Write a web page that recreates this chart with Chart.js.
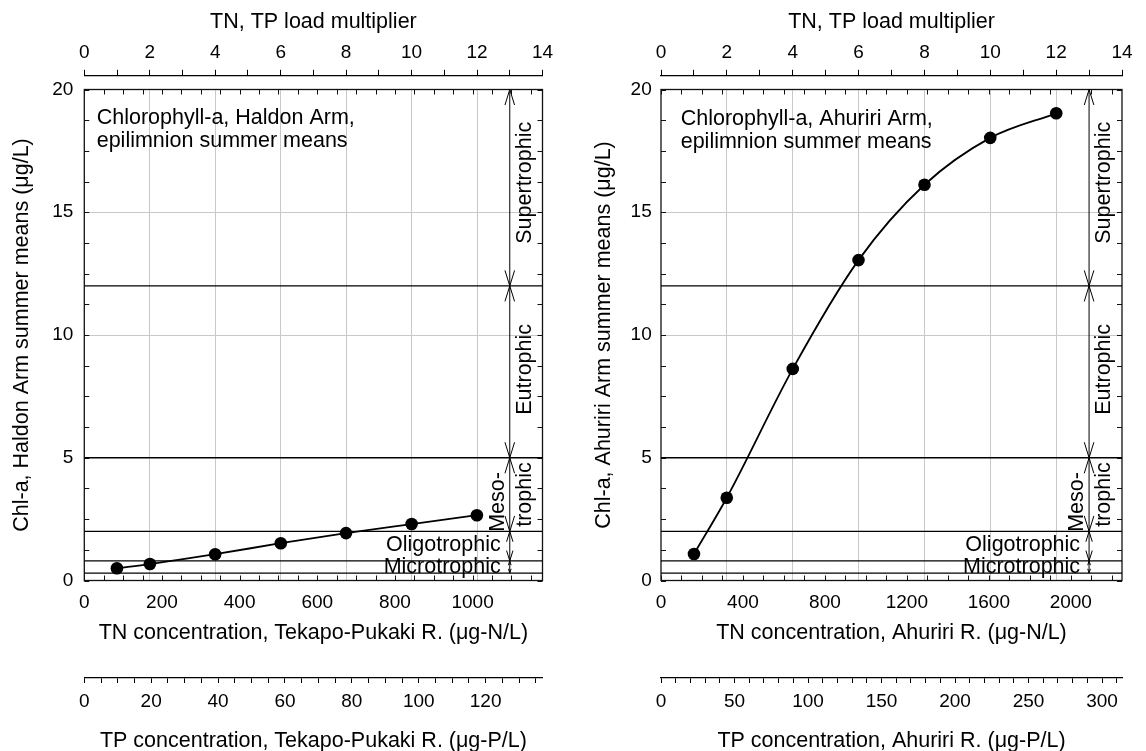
<!DOCTYPE html>
<html>
<head>
<meta charset="utf-8">
<script src="https://cdn.jsdelivr.net/npm/chart.js@4.4.1/dist/chart.umd.min.js"></script>
<style>
    html, body { margin: 0; padding: 0; background: #fff; overflow: hidden; }
    #wrap { position: relative; width: 1146px; height: 751px; }
    .panel { position: absolute; top: 0; width: 573px; height: 751px; }
</style>
</head>
<body>
<div id="wrap">
    <div class="panel" style="left:0"><canvas id="haldonChart" width="573" height="751"></canvas></div>
    <div class="panel" style="left:573px"><canvas id="ahuririChart" width="573" height="751"></canvas></div>
</div>
<script>
// TN, TP load multipliers of the scenarios
const multipliers = [1, 2, 4, 6, 8, 10, 12];
const multiplierTicks = [0, 1, 2, 3, 4, 5, 6, 7, 8, 9, 10, 11, 12, 13, 14];

// Haldon Arm (Tekapo-Pukaki R. inflow)
const haldonTN = [84, 169, 337, 506, 674, 843, 1011];
const haldonChl = [0.50, 0.67, 1.07, 1.52, 1.93, 2.30, 2.66];
const haldonTNTicks = [0, 200, 400, 600, 800, 1000];
const haldonTPTicks = [0, 20, 40, 60, 80, 100, 120];

// Ahuriri Arm (Ahuriri R. inflow)
const ahuririTN = [161, 321, 643, 964, 1286, 1607, 1929];
const ahuririChl = [1.08, 3.37, 8.62, 13.05, 16.12, 18.03, 19.03];
const ahuririTNTicks = [0, 400, 800, 1200, 1600, 2000];
const ahuririTPTicks = [0, 50, 100, 150, 200, 250, 300];

const chlTicks = [0, 5, 10, 15, 20];

// trophic state boundaries (chl-a, ug/L)
const trophicBounds = [0.3, 0.8, 2, 5, 12, 20];
const trophicBandX = 13; // arrow position on the multiplier axis

const FONT = "'Liberation Sans', Arial, Helvetica, sans-serif";
const tickFont = { family: FONT, size: 19, lineHeight: 1.2 };
const titleFont = { family: FONT, size: 21.5, lineHeight: 1.2 };
const GRID = '#c8c8c8';

function range(step, max) {
    const out = [];
    for (let v = 0; v <= max + 1e-9; v += step) out.push(+v.toFixed(4));
    return out;
}

// box, inward ticks, trophic arrows and labels
const decorPlugin = {
    id: 'decor',
    beforeDatasetsDraw(chart, args, opts) {
        const { ctx, chartArea: a, scales } = chart;
        ctx.save();
        ctx.strokeStyle = '#111';
        ctx.lineWidth = 1.3;
        ctx.strokeRect(a.left, a.top, a.right - a.left, a.bottom - a.top);
        ctx.lineWidth = 1;
        ctx.beginPath();
        range(opts.tnMinor, opts.tnMax).forEach(v => {
            const px = Math.round(scales.x.getPixelForValue(v)) + 0.5;
            ctx.moveTo(px, a.bottom); ctx.lineTo(px, a.bottom - 5);
            ctx.moveTo(px, a.top); ctx.lineTo(px, a.top + 5);
        });
        range(1.25, 20).forEach(v => {
            const py = Math.round(scales.y.getPixelForValue(v)) + 0.5;
            ctx.moveTo(a.left, py); ctx.lineTo(a.left + 5, py);
            ctx.moveTo(a.right, py); ctx.lineTo(a.right - 5, py);
        });
        ctx.stroke();
        ctx.restore();
    },
    afterDatasetsDraw(chart, args, opts) {
        const { ctx, scales } = chart;
        const ax = scales.xm.getPixelForValue(trophicBandX);
        const y = v => scales.y.getPixelForValue(v);
        ctx.save();
        ctx.strokeStyle = '#000';
        ctx.lineWidth = 1;

        // open arrow heads at both ends of each band
        for (let i = 0; i < trophicBounds.length - 1; i++) {
            const lo = y(trophicBounds[i]), hi = y(trophicBounds[i + 1]);
            const len = Math.min(15.5, (lo - hi) * 0.35);
            const w = len * 0.31;
            ctx.beginPath();
            ctx.moveTo(ax - w, hi + len); ctx.lineTo(ax, hi); ctx.lineTo(ax + w, hi + len);
            ctx.moveTo(ax - w, lo - len); ctx.lineTo(ax, lo); ctx.lineTo(ax + w, lo - len);
            ctx.stroke();
        }

        ctx.fillStyle = '#000';
        ctx.font = `21.5px ${FONT}`;
        const vtext = (t, x, yy) => {
            ctx.save();
            ctx.translate(x, yy);
            ctx.rotate(-Math.PI / 2);
            ctx.textAlign = 'center';
            ctx.textBaseline = 'middle';
            ctx.fillText(t, 0, 0);
            ctx.restore();
        };
        vtext('Supertrophic', ax + 15, y(16.2));
        vtext('Eutrophic', ax + 15, y(8.6));
        vtext('Meso-', ax - 11.5, y(3.2));
        vtext('trophic', ax + 15, y(3.5));

        ctx.textAlign = 'right';
        ctx.textBaseline = 'middle';
        ctx.fillText('Oligotrophic', ax - 9, y(1.45));
        ctx.fillText('Microtrophic', ax - 9, y(0.55));

        // panel caption
        ctx.textAlign = 'left';
        ctx.textBaseline = 'alphabetic';
        const a = chart.chartArea;
        ctx.fillText(opts.caption[0], a.left + opts.captionDx, opts.captionY);
        ctx.fillText(opts.caption[1], a.left + opts.captionDx, opts.captionY + 23);
        ctx.restore();
    }
};

function setTicks(values) {
    return scale => { scale.ticks = values.map(v => ({ value: v })); };
}

function buildPanel(canvasId, p) {
    const series = p.tn.map((x, i) => ({ x: x, y: p.chl[i] }));
    const datasets = [];

    trophicBounds.slice(0, -1).forEach(b => {
        datasets.push({
            data: [{ x: 0, y: b }, { x: 14, y: b }],
            xAxisID: 'xm', yAxisID: 'y',
            borderColor: '#000', borderWidth: 1.3, pointRadius: 0
        });
    });
    datasets.push({
        data: [{ x: trophicBandX, y: trophicBounds[0] }, { x: trophicBandX, y: 20 }],
        xAxisID: 'xm', yAxisID: 'y',
        borderColor: '#000', borderWidth: 1, pointRadius: 0
    });
    datasets.push({
        data: series,
        xAxisID: 'x', yAxisID: 'y',
        borderColor: '#000', borderWidth: 1.8,
        pointRadius: 6.3, pointBackgroundColor: '#000', pointBorderWidth: 0,
        cubicInterpolationMode: 'monotone'
    });

    new Chart(document.getElementById(canvasId), {
        type: 'line',
        data: { datasets: datasets },
        plugins: [decorPlugin],
        options: {
            responsive: false,
            animation: false,
            devicePixelRatio: 1,
            layout: { padding: { left: 0, right: p.padRight, top: 0, bottom: 0 } },
            plugins: {
                legend: { display: false },
                tooltip: { enabled: false },
                decor: {
                    tnMinor: p.tnMinor, tnMax: p.tnMax,
                    caption: p.caption, captionDx: p.captionDx, captionY: p.captionY
                }
            },
            scales: {
                x: {
                    type: 'linear', position: 'bottom', weight: 0,
                    min: 0, max: p.tnMax,
                    afterBuildTicks: setTicks(p.tnTicks),
                    afterFit: s => { s.height = 97.5; },
                    grid: { display: false, drawTicks: false },
                    border: { display: false },
                    ticks: {
                        font: tickFont, color: '#000', padding: 10.8, maxRotation: 0, autoSkip: false,
                        callback: v => String(v)
                    },
                    title: { display: true, text: p.tnTitle, font: titleFont, color: '#000', padding: { top: 0, bottom: 32.4 } }
                },
                xp: {
                    type: 'linear', position: 'bottom', weight: 1,
                    min: 0, max: p.tpMax,
                    afterBuildTicks: setTicks(range(p.tpMinor, p.tpMax)),
                    afterFit: s => { s.height = 73; },
                    grid: { display: true, drawOnChartArea: false, tickLength: 5, tickColor: '#000', tickWidth: 1 },
                    border: { display: true, color: '#000', width: 1.3 },
                    ticks: {
                        font: tickFont, color: '#000', padding: 7.3, maxRotation: 0, autoSkip: false,
                        callback: v => (p.tpTicks.includes(v) ? String(v) : '')
                    },
                    title: { display: true, text: p.tpTitle, font: { family: FONT, size: 21.5, lineHeight: 0.9 }, color: '#000', padding: { top: 0, bottom: 0 } }
                },
                xs: {
                    type: 'linear', position: 'top', weight: 1,
                    min: 0, max: 14,
                    afterFit: s => { s.height = 14.2; },
                    grid: { display: false, drawTicks: false },
                    border: { display: false },
                    ticks: { display: false }
                },
                xm: {
                    type: 'linear', position: 'top', weight: 2,
                    min: 0, max: 14,
                    afterBuildTicks: setTicks(multiplierTicks),
                    afterFit: s => { s.height = 75.3; },
                    grid: {
                        display: true, drawOnChartArea: true, tickLength: 5.5,
                        tickColor: '#000', tickWidth: 1, lineWidth: 1,
                        color: c => (c.tick && c.tick.value % 2 === 0 && c.tick.value > 0 && c.tick.value < 14 ? GRID : 'rgba(0,0,0,0)')
                    },
                    border: { display: true, color: '#000', width: 1.3 },
                    ticks: {
                        font: tickFont, color: '#000', padding: 5.7, maxRotation: 0, autoSkip: false,
                        callback: v => (v % 2 === 0 ? String(v) : '')
                    },
                    title: { display: true, text: 'TN, TP load multiplier', font: titleFont, color: '#000', padding: { top: 9.1, bottom: 0 } }
                },
                y: {
                    type: 'linear', position: 'left',
                    min: 0, max: 20,
                    afterBuildTicks: setTicks(chlTicks),
                    afterFit: s => { s.width = p.yWidth; },
                    grid: {
                        drawTicks: false, lineWidth: 1,
                        color: c => (c.tick && c.tick.value > 0 && c.tick.value < 20 ? GRID : 'rgba(0,0,0,0)')
                    },
                    border: { display: false },
                    ticks: { font: tickFont, color: '#000', padding: p.yPad },
                    title: { display: true, text: p.yTitle, font: titleFont, color: '#000', padding: { top: p.yTitlePad, bottom: 0 } }
                }
            }
        }
    });
}

buildPanel('haldonChart', {
    tn: haldonTN, chl: haldonChl,
    tnMax: 1180, tnMinor: 50, tnTicks: haldonTNTicks,
    tpMax: 137, tpMinor: 5, tpTicks: haldonTPTicks,
    yWidth: 84.3, yPad: 11, yTitlePad: 9.1, padRight: 30.5,
    tnTitle: 'TN concentration, Tekapo-Pukaki R. (\u03bcg-N/L)',
    tpTitle: 'TP concentration, Tekapo-Pukaki R. (\u03bcg-P/L)',
    yTitle: 'Chl-a, Haldon Arm summer means (\u03bcg/L)',
    caption: ['Chlorophyll-a, Haldon Arm,', 'epilimnion summer means'],
    captionDx: 12.4, captionY: 123.5
});

buildPanel('ahuririChart', {
    tn: ahuririTN, chl: ahuririChl,
    tnMax: 2250, tnMinor: 100, tnTicks: ahuririTNTicks,
    tpMax: 313.6, tpMinor: 10, tpTicks: ahuririTPTicks,
    yWidth: 88, yPad: 9.3, yTitlePad: 18.4, padRight: 24,
    tnTitle: 'TN concentration, Ahuriri R. (\u03bcg-N/L)',
    tpTitle: 'TP concentration, Ahuriri R. (\u03bcg-P/L)',
    yTitle: 'Chl-a, Ahuriri Arm summer means (\u03bcg/L)',
    caption: ['Chlorophyll-a, Ahuriri Arm,', 'epilimnion summer means'],
    captionDx: 19.7, captionY: 125
});
</script>
</body>
</html>
